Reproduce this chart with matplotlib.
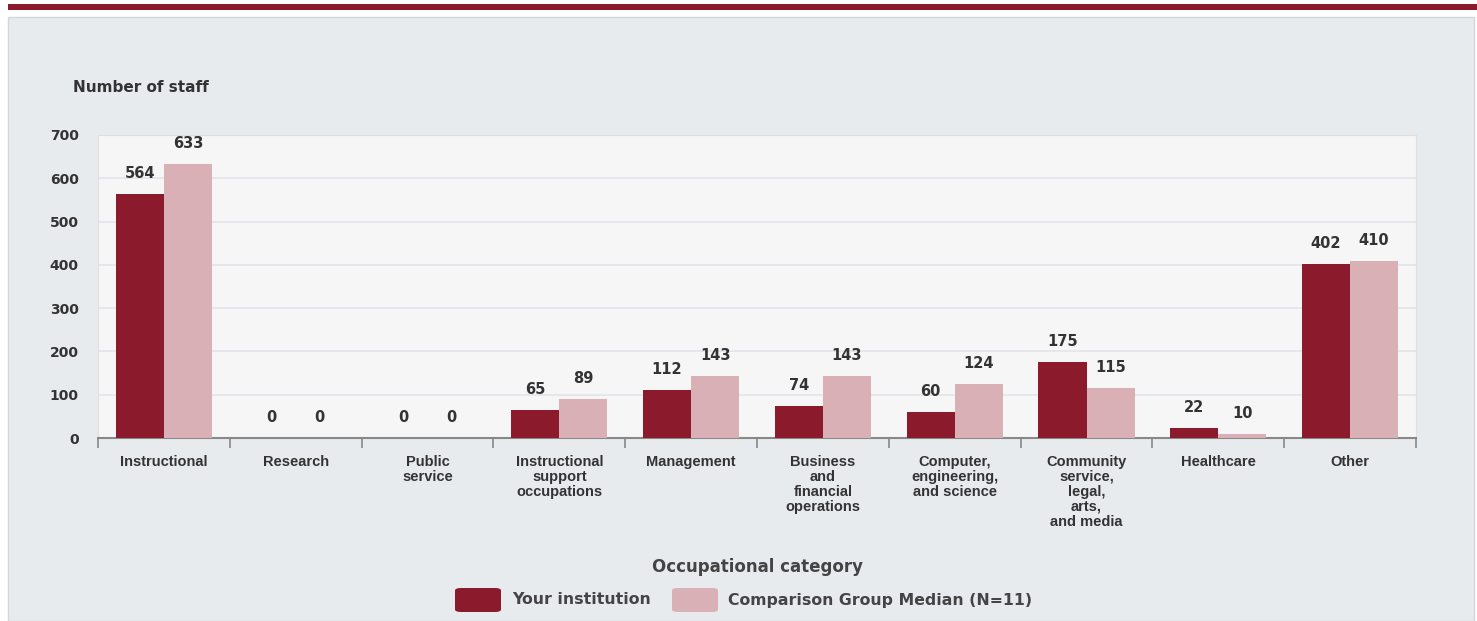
import matplotlib
matplotlib.use("Agg")
import matplotlib.pyplot as plt
from matplotlib.patches import Rectangle, FancyBboxPatch
import numpy as np

categories = ["Instructional", "Research", "Public\nservice", "Instructional\nsupport\noccupations",
              "Management", "Business\nand\nfinancial\noperations", "Computer,\nengineering,\nand science",
              "Community\nservice,\nlegal,\narts,\nand media", "Healthcare", "Other"]
your_inst = [564, 0, 0, 65, 112, 74, 60, 175, 22, 402]
comparison = [633, 0, 0, 89, 143, 143, 124, 115, 10, 410]
yticks = [0, 100, 200, 300, 400, 500, 600, 700]

DARK = "#8a1a2c"
PINK = "#d8b0b6"
TXT = "#333333"

W, H = 1477, 621
fig = plt.figure(figsize=(W/100, H/100), dpi=100)
fig.patch.set_facecolor("white")

def fx(x): return x / W
def fy(y): return 1 - y / H

# top red line
fig.patches.append(Rectangle((fx(8), fy(10)), fx(1477-8), 6/H, transform=fig.transFigure,
                             facecolor=DARK, edgecolor="none", zorder=-5))
# gray panel
fig.patches.append(Rectangle((fx(8), fy(621)), fx(1474-8), (621-17)/H, transform=fig.transFigure,
                             facecolor="#e8ebee", edgecolor="#d3d6da", lw=1, zorder=-5))

ax = fig.add_axes([fx(98), fy(438), fx(1416-98), (438-135)/H])
ax.set_zorder(5)
ax.set_facecolor("#f6f6f6")
x = np.arange(len(categories))
bw = 0.365
ax.bar(x - bw/2, your_inst, bw, color=DARK, zorder=3)
ax.bar(x + bw/2, comparison, bw, color=PINK, zorder=3)
for xi, v in zip(x, your_inst):
    ax.text(xi - bw/2, v + 30, str(v), ha="center", va="bottom", fontsize=10.5, fontweight="bold", color=TXT)
for xi, v in zip(x, comparison):
    ax.text(xi + bw/2, v + 30, str(v), ha="center", va="bottom", fontsize=10.5, fontweight="bold", color=TXT)

ax.set_xlim(-0.5, len(categories) - 0.5)
ax.set_ylim(0, 700)
ax.set_yticks(yticks)
ax.set_yticklabels([str(t) for t in yticks], fontsize=10, fontweight="bold", color=TXT)
ax.yaxis.grid(True, color="#e2e4ea", lw=1.2, zorder=0)
ax.set_axisbelow(True)
ax.tick_params(axis="y", length=0, pad=14)
ax.set_xticks(np.arange(-0.5, len(categories) + 0.5, 1.0))
ax.set_xticklabels([])
ax.set_xticks(x, minor=True)
ax.set_xticklabels(categories, minor=True, fontsize=10.5, fontweight="bold", color=TXT,
                   family=["Liberation Sans", "DejaVu Sans"], linespacing=1.1)
ax.tick_params(axis="x", which="major", length=7, color="#888888", width=1.2)
ax.tick_params(axis="x", which="minor", length=0, pad=12)
for s in ["top", "right", "left"]:
    ax.spines[s].set_color("#e0e0e0")
ax.spines["bottom"].set_color("#888888")
ax.spines["bottom"].set_linewidth(1.5)

fig.text(fx(73), fy(87), "Number of staff", fontsize=11, fontweight="bold", color=TXT, va="center", ha="left")
fig.text(fx(757), fy(567), "Occupational category", fontsize=12, fontweight="bold", color="#444444",
         va="center", ha="center")

# legend
def legpatch(x0, color):
    fig.patches.append(FancyBboxPatch((fx(x0), fy(612)), fx(46), 24/H, transform=fig.transFigure,
                                      boxstyle="round,pad=0,rounding_size=0.004", facecolor=color,
                                      edgecolor="none"))
legpatch(455, DARK)
fig.text(fx(512), fy(600), "Your institution", fontsize=11.3, fontweight="bold", color="#444444", va="center")
legpatch(672, PINK)
fig.text(fx(728), fy(600), "Comparison Group Median (N=11)", fontsize=11.3, fontweight="bold", color="#444444",
         va="center")

fig.savefig("out.png", dpi=100, facecolor=fig.get_facecolor())
